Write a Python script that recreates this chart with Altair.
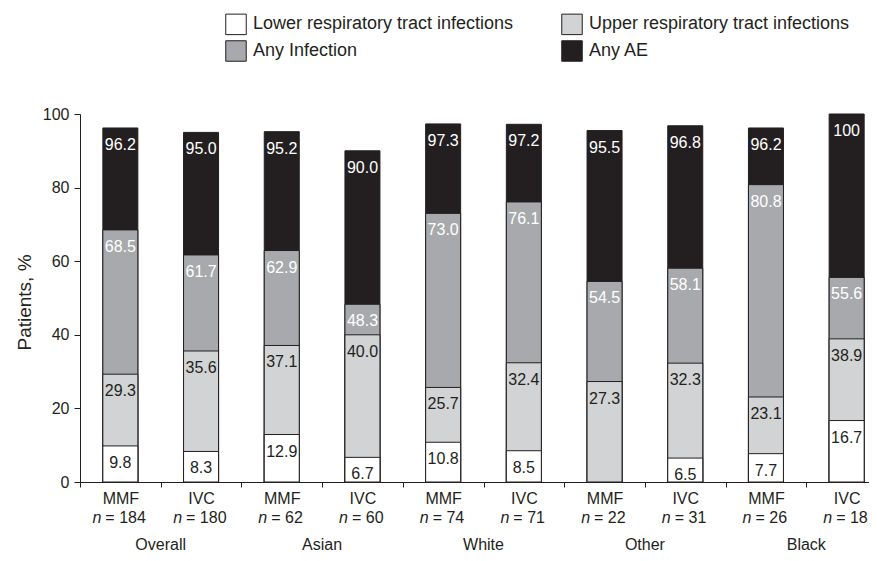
import altair as alt
import pandas as pd

FONT = "Liberation Sans"
INK = "#231f20"

groups = ["Overall", "Asian", "White", "Other", "Black"]
arms = ["MMF", "IVC"]
n_values = [184, 180, 62, 60, 74, 71, 22, 31, 26, 18]

any_ae = [96.2, 95.0, 95.2, 90.0, 97.3, 97.2, 95.5, 96.8, 96.2, 100]
any_infection = [68.5, 61.7, 62.9, 48.3, 73.0, 76.1, 54.5, 58.1, 80.8, 55.6]
upper_rti = [29.3, 35.6, 37.1, 40.0, 25.7, 32.4, 27.3, 32.3, 23.1, 38.9]
lower_rti = [9.8, 8.3, 12.9, 6.7, 10.8, 8.5, None, 6.5, 7.7, 16.7]

series_names = ["Lower respiratory tract infections", "Upper respiratory tract infections",
                "Any Infection", "Any AE"]
series_colors = ["#ffffff", "#d1d3d4", "#a7a9ac", INK]
label_colors = [INK, INK, "#ffffff", "#ffffff"]

bar_group = [g for g in groups for _ in arms]
bar_arm = [a for _ in groups for a in arms]
keys = [f"{g}|{a}" for g, a in zip(bar_group, bar_arm)]

# draw order: back (Any AE) to front (Lower RTI)
draw = [(3, any_ae), (2, any_infection), (1, upper_rti), (0, lower_rti)]
rows = []
for si, vals in draw:
    for i, v in enumerate(vals):
        if v is None:
            continue
        rows.append(dict(key=keys[i], series=series_names[si], value=v,
                         label=("100" if v >= 100 else f"{v:.1f}"),
                         tcolor=label_colors[si]))
df = pd.DataFrame(rows)

bars_df = pd.DataFrame(dict(key=keys, group=bar_group, arm=bar_arm, n=n_values,
                            nstr=[str(v) for v in n_values],
                            rest=[f"= {v}" for v in n_values]))

xscale = alt.Scale(domain=keys, range=[0, 807], paddingInner=0, paddingOuter=0)
xaxis = alt.Axis(title=None, labelExpr="split(datum.label, '|')[1]", labelAngle=0,
                 tickBand="extent", tickSize=5, labelPadding=3, labelFontSize=16,
                 labelFont=FONT, labelColor=INK, domainColor=INK, tickColor=INK,
                 labelBaseline="top")


def xenc(**kw):
    return alt.X("key:N", scale=xscale, axis=xaxis, **kw)


yscale = alt.Scale(domain=[0, 100], nice=False)
yaxis = alt.Axis(values=[0, 20, 40, 60, 80, 100], title="Patients, %", grid=False,
                 tickSize=6, labelPadding=5, labelFontSize=16, labelFont=FONT,
                 labelColor=INK, domainColor=INK, tickColor=INK,
                 titleFontSize=19, titleFont=FONT, titleFontWeight="normal",
                 titleColor=INK, titleX=-50, titleY=188, titleAngle=-90,
                 titleBaseline="alphabetic", titleAlign="center")


def yenc():
    return alt.Y("value:Q", scale=yscale, axis=yaxis)


legend = alt.Legend(title=None, orient="none", legendX=145, legendY=-101, columns=2,
                    direction="horizontal",
                    columnPadding=45, rowPadding=1, symbolType="square", symbolSize=420,
                    symbolStrokeColor=INK, symbolStrokeWidth=1, labelFontSize=18,
                    labelFont=FONT, labelColor=INK, labelOffset=6, labelLimit=500,
                    padding=0)
fill = alt.Fill("series:N", scale=alt.Scale(domain=series_names, range=series_colors),
                legend=legend)

layers = []
for si, _ in draw:
    layers.append(
        alt.Chart(df).transform_filter(alt.datum.series == series_names[si])
        .mark_bar(size=35, stroke=INK, strokeWidth=1)
        .encode(x=xenc(), y=yenc(), fill=fill)
    )

layers.append(
    alt.Chart(df).mark_text(baseline="alphabetic", dy=22, fontSize=16, font=FONT)
    .encode(x=xenc(), y=yenc(), text="label:N", color=alt.Color("tcolor:N", scale=None))
)

for ndig, dx_n, dx_r in [(3, -19, -15), (2, -14.5, -10.5)]:
    sub = alt.Chart(bars_df).transform_filter(f"length(datum.nstr) == {ndig}")
    layers.append(
        sub.mark_text(text="n", fontStyle="italic", align="right", dx=dx_n,
                      baseline="alphabetic", fontSize=16, font=FONT, color=INK)
        .encode(x=xenc(), y=alt.value(409))
    )
    layers.append(
        sub.mark_text(align="left", dx=dx_r, baseline="alphabetic", fontSize=16,
                      font=FONT, color=INK)
        .encode(x=xenc(), y=alt.value(409), text="rest:N")
    )

layers.append(
    alt.Chart(bars_df).transform_filter(alt.datum.arm == "MMF")
    .mark_text(baseline="alphabetic", fontSize=16, font=FONT, color=INK)
    .encode(x=xenc(bandPosition=1), y=alt.value(436), text="group:N")
)

chart = (
    alt.layer(*layers)
    .properties(width=789, height=368,
                padding={"left": 72, "top": 106, "right": 0, "bottom": 71},
                autosize=alt.AutoSizeParams(type="none"))
    .configure_view(stroke=None)
)

chart.save("out.html", embed_options={"renderer": "svg", "actions": False})
